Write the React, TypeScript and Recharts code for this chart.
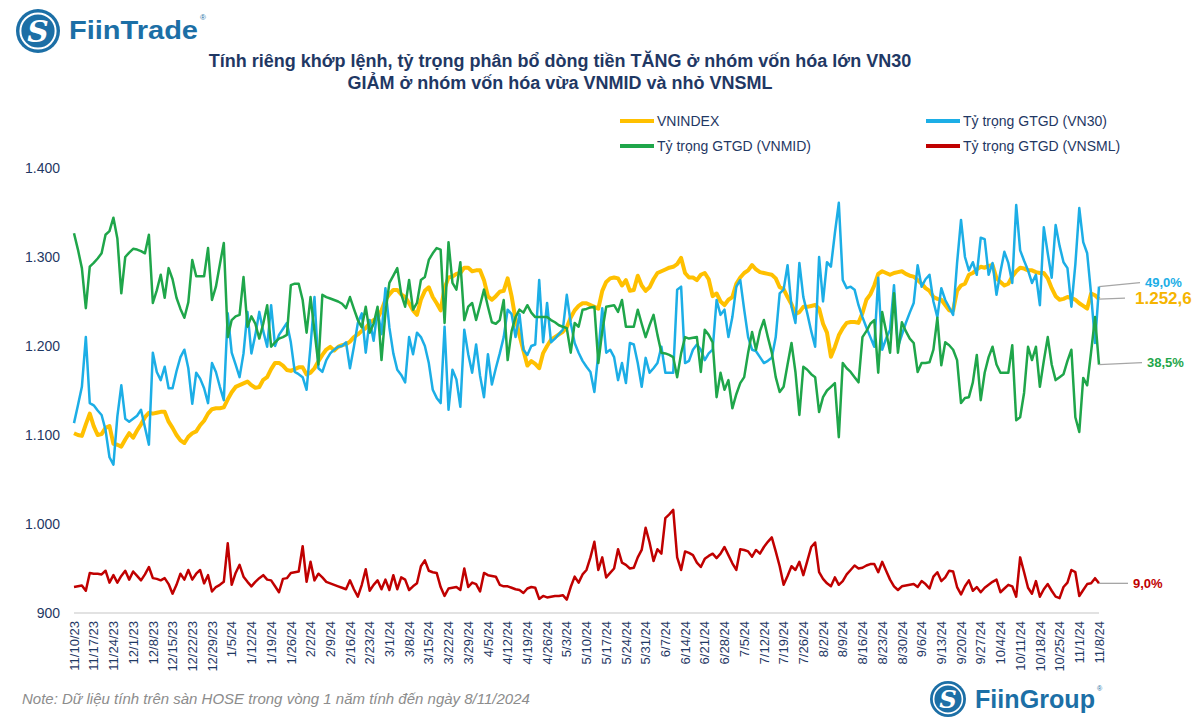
import React from 'react';
import { LineChart, Line, XAxis, YAxis } from 'recharts';

// ---------- DATA ----------
const weekLabels = [
  '11/10/23','11/17/23','11/24/23','12/1/23','12/8/23','12/15/23','12/22/23','12/29/23',
  '1/5/24','1/12/24','1/19/24','1/26/24','2/2/24','2/9/24','2/16/24','2/23/24',
  '3/1/24','3/8/24','3/15/24','3/22/24','3/29/24','4/5/24','4/12/24','4/19/24','4/26/24',
  '5/3/24','5/10/24','5/17/24','5/24/24','5/31/24','6/7/24','6/14/24','6/21/24','6/28/24',
  '7/5/24','7/12/24','7/19/24','7/26/24','8/2/24','8/9/24','8/16/24','8/23/24','8/30/24',
  '9/6/24','9/13/24','9/20/24','9/27/24','10/4/24','10/11/24','10/18/24','10/25/24','11/1/24','11/8/24',
];
const SESSIONS_PER_WEEK = 5;

const vnindex = [
  1102,1100,1099,1112,1124,1110,1100,1101,1108,1110,
  1090,1089,1087,1095,1102,1097,1105,1112,1120,1125,
  1124,1125,1126,1126,1115,1108,1100,1094,1091,1098,
  1102,1104,1111,1116,1124,1129,1130,1130,1131,1140,
  1148,1154,1156,1158,1160,1156,1153,1154,1162,1165,
  1174,1181,1181,1178,1173,1172,1174,1176,1176,1168,
  1170,1175,1183,1190,1196,1199,1195,1199,1201,1202,
  1205,1210,1213,1217,1220,1226,1229,1231,1240,1252,
  1258,1263,1263,1258,1255,1248,1240,1235,1252,1262,
  1266,1255,1248,1240,1265,1277,1278,1281,1282,1288,
  1288,1284,1285,1285,1274,1256,1252,1256,1261,1262,
  1276,1256,1230,1212,1195,1178,1183,1180,1175,1192,
  1200,1207,1210,1213,1216,1221,1232,1240,1245,1248,
  1248,1246,1244,1242,1262,1272,1276,1277,1276,1268,
  1274,1262,1263,1279,1268,1262,1266,1275,1282,1284,
  1286,1288,1289,1292,1299,1282,1277,1277,1274,1280,
  1282,1275,1256,1259,1250,1246,1252,1255,1270,1277,
  1282,1285,1291,1286,1283,1282,1281,1280,1276,1266,
  1264,1255,1247,1236,1238,1244,1244,1245,1246,1242,
  1225,1215,1188,1199,1212,1220,1226,1227,1227,1226,
  1237,1252,1258,1268,1281,1284,1282,1280,1282,1283,
  1284,1281,1279,1278,1274,1270,1265,1262,1255,1253,
  1252,1246,1240,1240,1262,1268,1270,1280,1282,1286,
  1289,1288,1290,1291,1276,1272,1268,1270,1278,1284,
  1288,1287,1285,1285,1283,1282,1282,1276,1265,1256,
  1252,1253,1255,1254,1252,1248,1245,1242,1259,1257,
  1252.6,
];

const vn30 = [
  30.6,33.0,35.5,42.2,33.3,33.0,32.3,31.7,29.7,26.0,
  25.0,31.5,35.7,31.2,30.8,31.2,31.6,32.4,30.0,27.7,
  40.1,37.5,36.4,38.2,35.3,35.3,37.6,39.5,40.5,38.0,
  33.2,37.4,36.6,35.3,33.3,38.7,37.5,35.5,33.7,45.4,
  40.1,38.5,36.8,40.0,45.6,40.0,42.5,45.6,43.0,40.9,
  46.5,41.0,42.5,43.3,44.1,41.5,37.5,37.2,36.8,35.1,
  41.0,47.6,38.0,37.5,39.1,40.0,40.5,40.9,41.0,41.5,
  38.0,40.9,44.1,45.4,40.1,44.5,41.7,45.9,42.6,48.8,
  43.5,40.0,37.8,37.1,36.1,42.2,39.9,42.8,42.2,41.0,
  38.7,35.1,34.0,33.3,43.6,32.4,37.8,36.5,32.8,43.2,
  39.9,37.4,41.2,37.0,34.1,39.9,35.8,38.0,40.0,42.2,
  45.9,45.3,42.2,45.3,40.5,39.8,41.0,41.2,49.9,41.5,
  46.8,41.5,42.0,42.6,43.2,47.9,44.1,41.4,40.1,39.0,
  38.2,37.5,34.8,40.0,46.1,40.1,40.5,39.5,36.4,38.7,
  36.0,41.4,41.2,38.7,35.5,39.4,37.4,38.0,38.7,40.9,
  37.4,37.4,37.4,48.6,49.0,38.7,39.0,40.5,41.2,40.5,
  39.1,40.0,40.5,47.2,45.2,45.9,42.2,44.9,49.0,49.9,
  45.9,42.2,40.5,40.3,39.5,38.7,39.0,39.4,42.2,48.1,
  48.6,51.9,46.3,44.1,52.2,47.6,45.4,43.0,40.9,53.0,
  47.0,52.3,51.7,56.2,60.3,49.9,48.8,49.0,48.6,46.5,
  44.9,43.5,42.2,40.9,50.2,40.5,42.0,43.2,49.2,40.9,
  42.5,44.1,45.5,46.8,51.9,49.0,50.0,50.6,47.0,44.9,
  48.8,47.2,46.2,45.2,52.2,58.0,53.0,51.2,52.3,50.6,
  55.6,55.4,50.6,52.2,47.9,51.0,53.7,52.2,49.5,60.0,
  53.9,52.5,51.2,49.5,50.6,46.5,57.0,53.5,50.2,57.3,
  54.5,52.3,51.5,46.3,52.0,59.6,55.0,53.5,48.0,41.4,
  49.0,
];

const vnmid = [
  56.2,54.0,51.5,46.1,51.7,52.2,52.8,53.5,56.0,56.5,
  58.3,55.5,48.1,53.0,53.6,54.1,54.0,53.8,53.5,56.0,
  46.8,48.5,50.6,47.5,51.5,50.0,47.5,46.0,44.8,46.9,
  52.6,50.4,50.4,50.4,54.2,47.2,49.0,52.0,54.9,42.2,
  44.5,45.0,45.2,50.3,43.6,45.0,44.0,42.0,44.0,46.5,
  40.9,41.5,42.0,42.2,42.5,49.2,49.4,49.4,47.2,42.8,
  47.6,43.0,38.5,47.9,47.6,47.4,47.2,47.0,46.7,46.1,
  47.6,46.0,44.5,43.5,46.3,42.8,44.0,46.3,39.1,45.5,
  49.5,50.5,51.5,48.0,46.3,49.9,45.9,46.8,49.9,50.3,
  52.6,53.5,54.2,54.0,44.1,55.0,49.5,48.6,52.3,44.5,
  46.3,46.8,44.5,46.5,48.6,46.3,44.2,44.0,44.5,47.2,
  39.1,43.0,44.9,45.9,45.5,46.5,45.5,44.9,44.9,44.9,
  44.9,44.5,44.2,43.8,43.6,43.4,40.1,44.1,43.6,45.9,
  46.0,46.2,46.3,38.7,43.0,46.3,46.4,46.5,45.6,47.2,
  43.6,43.6,43.6,45.9,44.0,42.2,43.8,45.2,42.5,40.1,
  40.0,39.8,39.5,36.8,40.0,42.2,42.0,42.1,42.2,37.5,
  43.2,42.5,41.5,34.1,37.4,35.1,36.4,32.6,34.5,36.0,
  36.8,40.1,42.9,40.5,43.0,44.5,42.2,40.1,36.8,34.8,
  35.5,38.5,41.4,37.5,31.7,38.2,37.8,37.2,36.8,32.1,
  34.1,35.0,35.5,36.0,28.7,38.7,38.0,37.5,36.8,36.1,
  42.2,43.0,44.0,44.5,37.4,45.6,43.0,40.1,48.1,40.1,
  44.2,43.0,42.0,41.4,37.5,38.7,38.7,38.8,40.5,44.8,
  38.4,41.5,41.1,40.5,39.1,33.3,34.0,34.1,36.1,39.8,
  33.7,37.4,39.5,40.9,38.5,37.4,37.4,37.4,41.1,31.0,
  31.4,34.7,40.9,39.1,40.9,35.5,39.0,42.2,38.5,36.4,
  36.8,37.2,39.0,40.5,31.4,29.4,36.7,35.7,40.2,44.9,
  38.5,
];

const vnsml = [
  8.5,8.6,8.7,8.0,10.4,10.3,10.3,10.2,10.7,9.1,
  10.1,9.1,10.0,10.7,9.5,10.6,10.0,9.4,10.2,11.2,
  9.7,9.6,9.4,9.7,8.9,7.6,8.8,10.3,9.5,10.8,
  9.5,10.3,10.8,9.0,10.1,7.9,8.5,8.8,9.2,14.4,
  8.8,10.4,11.5,9.9,9.2,8.6,9.2,9.7,10.1,9.5,
  9.4,8.6,7.8,9.6,9.7,10.4,10.5,10.6,14.0,9.2,
  11.9,9.4,10.3,9.8,9.2,9.0,8.8,8.6,8.4,8.2,
  9.4,8.2,7.2,8.8,10.9,8.0,8.8,9.4,8.2,9.5,
  8.1,10.1,8.2,9.8,9.5,8.1,8.6,9.0,11.3,12.1,
  10.7,10.5,10.4,8.5,7.3,8.3,8.4,8.5,8.1,11.0,
  8.5,9.1,8.9,7.9,10.4,10.1,10.0,9.9,8.8,8.6,
  8.6,8.4,8.2,8.1,7.7,8.3,8.5,8.4,6.9,7.3,
  7.1,7.2,7.3,7.3,7.4,6.8,8.5,9.9,9.1,10.2,
  10.8,12.5,14.6,10.8,12.5,9.8,10.4,11.0,13.6,11.8,
  11.5,11.0,11.1,12.5,13.5,16.5,14.5,12.0,13.6,13.0,
  17.8,18.3,18.9,12.5,10.8,13.3,13.1,12.8,11.8,11.2,
  12.3,12.7,13.0,12.4,13.0,13.9,12.8,11.7,10.8,13.6,
  13.5,13.3,12.6,13.5,13.0,13.9,14.6,15.2,13.3,11.3,
  8.8,10.0,11.3,10.8,11.9,10.1,12.0,13.9,14.5,10.5,
  9.6,9.0,8.6,9.8,8.8,9.3,10.2,10.8,11.4,11.0,
  11.1,11.4,11.6,11.6,10.5,11.9,10.7,9.5,8.6,8.1,
  8.6,8.7,8.8,8.9,8.5,9.3,8.9,8.3,9.9,10.5,
  9.3,9.8,10.7,10.6,8.5,7.5,8.6,9.4,8.0,8.5,
  7.8,8.4,8.8,9.2,9.5,7.8,8.3,8.8,8.6,7.2,
  12.5,10.5,8.4,7.6,9.3,7.2,8.2,8.9,8.0,7.2,
  7.0,8.5,9.1,10.8,10.5,7.3,8.1,8.9,9.0,9.7,
  9.0,
];

const yTicks = [900, 1000, 1100, 1200, 1300, 1400];

// ---------- STYLE ----------
const FONT = '"Liberation Sans", Arial, sans-serif';
const NAVY = '#1F3864';
const C_VNI = '#FFC000';
const C_VN30 = '#1CAEE6';
const C_MID = '#1FA64A';
const C_SML = '#C00000';
const BRAND = '#1C6FA6';

const data = vnindex.map((v, i) => ({ i, vnindex: v, vn30: vn30[i], vnmid: vnmid[i], vnsml: vnsml[i] }));
const LAST = vnindex.length - 1;
const xTicks = weekLabels.map((_, k) => k * SESSIONS_PER_WEEK);

const groupThousands = (s: string) => s.replace(/\B(?=(\d{3})+(?!\d))/g, '.');
const fmtVN = (v: number, d: number) => {
  const [a, b] = v.toFixed(d).split('.');
  return b ? `${groupThousands(a)},${b}` : groupThousands(a);
};

const XTick = (props: any) => {
  const { x, y, payload } = props;
  const label = weekLabels[Math.round(payload.value / SESSIONS_PER_WEEK)];
  return (
    <g transform={`translate(${x},${y})`}>
      <text transform="rotate(-90)" textAnchor="end" dy="0.36em" fill={NAVY} fontSize={13} fontFamily={FONT}>
        {label}
      </text>
    </g>
  );
};

const endDot = (color: string, text: string, dx: number, dy: number, gap: number, fs: number) => (p: any) => {
  const { cx, cy, index } = p;
  if (index !== LAST || cx == null) return <g key={`d${index}`} />;
  return (
    <g key={`d${index}`}>
      <line x1={cx} y1={cy} x2={cx + dx} y2={cy + dy} stroke="#A6A6A6" strokeWidth={1.3} />
      <text x={cx + dx + gap} y={cy + dy} dy="0.36em" fill={color} fontWeight="bold" fontSize={fs} fontFamily={FONT}>
        {text}
      </text>
    </g>
  );
};

const Logo = ({ cx, cy, r }: { cx: number; cy: number; r: number }) => (
  <g>
    <circle cx={cx} cy={cy} r={r} fill={BRAND} />
    <circle cx={cx} cy={cy} r={r * 0.8} fill="none" stroke="#fff" strokeWidth={r * 0.09} />
    <text x={cx} y={cy} dy="0.36em" textAnchor="middle" fill="#fff" fontSize={r * 1.35} fontWeight="bold"
      fontStyle="italic" fontFamily='"DejaVu Serif", "Liberation Serif", serif'>S</text>
  </g>
);

const LegendItem = ({ left, top, color, label }: { left: number; top: number; color: string; label: string }) => (
  <div style={{ position: 'absolute', left, top, display: 'flex', alignItems: 'center', height: 20 }}>
    <div style={{ width: 34, height: 4, background: color, marginRight: 3 }} />
    <span style={{ fontSize: 14, color: NAVY, whiteSpace: 'nowrap' }}>{label}</span>
  </div>
);

export default function App() {
  return (
    <div style={{ position: 'absolute', left: 0, top: 0, width: 1200, height: 720, background: '#fff', fontFamily: FONT, overflow: 'hidden' }}>
      {/* header logo */}
      <svg width={240} height={60} style={{ position: 'absolute', left: 0, top: 0 }}>
        <Logo cx={38} cy={31} r={22} />
        <text x={69} y={39} fill={BRAND} fontSize={25} fontWeight="bold" fontFamily={FONT} textLength={129} lengthAdjust="spacingAndGlyphs">FiinTrade</text>
        <text x={200} y={20} fill={BRAND} fontSize={8}>®</text>
      </svg>

      {/* title */}
      <div style={{ position: 'absolute', left: 0, width: 1120, top: 50, textAlign: 'center', fontWeight: 'bold', fontSize: 18, lineHeight: '22px', color: NAVY }}>
        <div>Tính riêng khớp lệnh, tỷ trọng phân bổ dòng tiền TĂNG ở nhóm vốn hóa lớn VN30</div>
        <div>GIẢM ở nhóm vốn hóa vừa VNMID và nhỏ VNSML</div>
      </div>

      {/* legend */}
      <LegendItem left={620} top={111} color={C_VNI} label="VNINDEX" />
      <LegendItem left={926} top={111} color={C_VN30} label="Tỷ trọng GTGD (VN30)" />
      <LegendItem left={620} top={136} color={C_MID} label="Tỷ trọng GTGD (VNMID)" />
      <LegendItem left={926} top={136} color={C_SML} label="Tỷ trọng GTGD (VNSML)" />

      <div style={{ position: 'absolute', left: 0, top: 0 }}>
        <LineChart width={1200} height={720} data={data} margin={{ top: 168, right: 101, bottom: 27, left: 14 }}>
          <XAxis
            dataKey="i"
            type="number"
            domain={[0, LAST]}
            ticks={xTicks}
            interval={0}
            tick={<XTick />}
            tickLine={false}
            tickSize={0}
            tickMargin={8}
            height={80}
            axisLine={{ stroke: '#D9D9D9', strokeWidth: 1.5 }}
          />
          <YAxis
            yAxisId="idx"
            domain={[900, 1400]}
            ticks={yTicks}
            width={60}
            axisLine={false}
            tickLine={false}
            tickSize={0}
            tickMargin={14}
            tick={{ fill: NAVY, fontSize: 14, fontFamily: FONT }}
            tickFormatter={(v: number) => fmtVN(v, 0)}
          />
          <YAxis yAxisId="pct" orientation="right" domain={[5, 65]} hide />
          <Line yAxisId="idx" dataKey="vnindex" stroke={C_VNI} strokeWidth={4} strokeLinejoin="round" isAnimationActive={false}
            dot={endDot('#F5B400', fmtVN(vnindex[LAST], 1), 26, -1, 10, 17)} activeDot={false} />
          <Line yAxisId="pct" dataKey="vn30" stroke={C_VN30} strokeWidth={2.5} strokeLinejoin="round" isAnimationActive={false}
            dot={endDot(C_VN30, `${fmtVN(vn30[LAST], 1)}%`, 41, -4, 5, 13)} activeDot={false} />
          <Line yAxisId="pct" dataKey="vnmid" stroke={C_MID} strokeWidth={2.5} strokeLinejoin="round" isAnimationActive={false}
            dot={endDot(C_MID, `${fmtVN(vnmid[LAST], 1)}%`, 43, -2, 5, 13)} activeDot={false} />
          <Line yAxisId="pct" dataKey="vnsml" stroke={C_SML} strokeWidth={2.5} strokeLinejoin="round" isAnimationActive={false}
            dot={endDot(C_SML, `${fmtVN(vnsml[LAST], 1)}%`, 29, 0, 5, 13)} activeDot={false} />
        </LineChart>
      </div>

      {/* footer */}
      <div style={{ position: 'absolute', left: 22, top: 690, fontSize: 15, fontStyle: 'italic', color: '#8C8C8C', whiteSpace: 'nowrap' }}>
        Note: Dữ liệu tính trên sàn HOSE trong vòng 1 năm tính đến ngày 8/11/2024
      </div>
      <svg width={200} height={50} style={{ position: 'absolute', left: 920, top: 674 }}>
        <Logo cx={28} cy={25} r={18} />
        <text x={55} y={34} fill={BRAND} fontSize={25} fontWeight="bold" fontFamily={FONT} textLength={120} lengthAdjust="spacingAndGlyphs">FiinGroup</text>
        <text x={177} y={17} fill={BRAND} fontSize={7}>®</text>
      </svg>
    </div>
  );
}
